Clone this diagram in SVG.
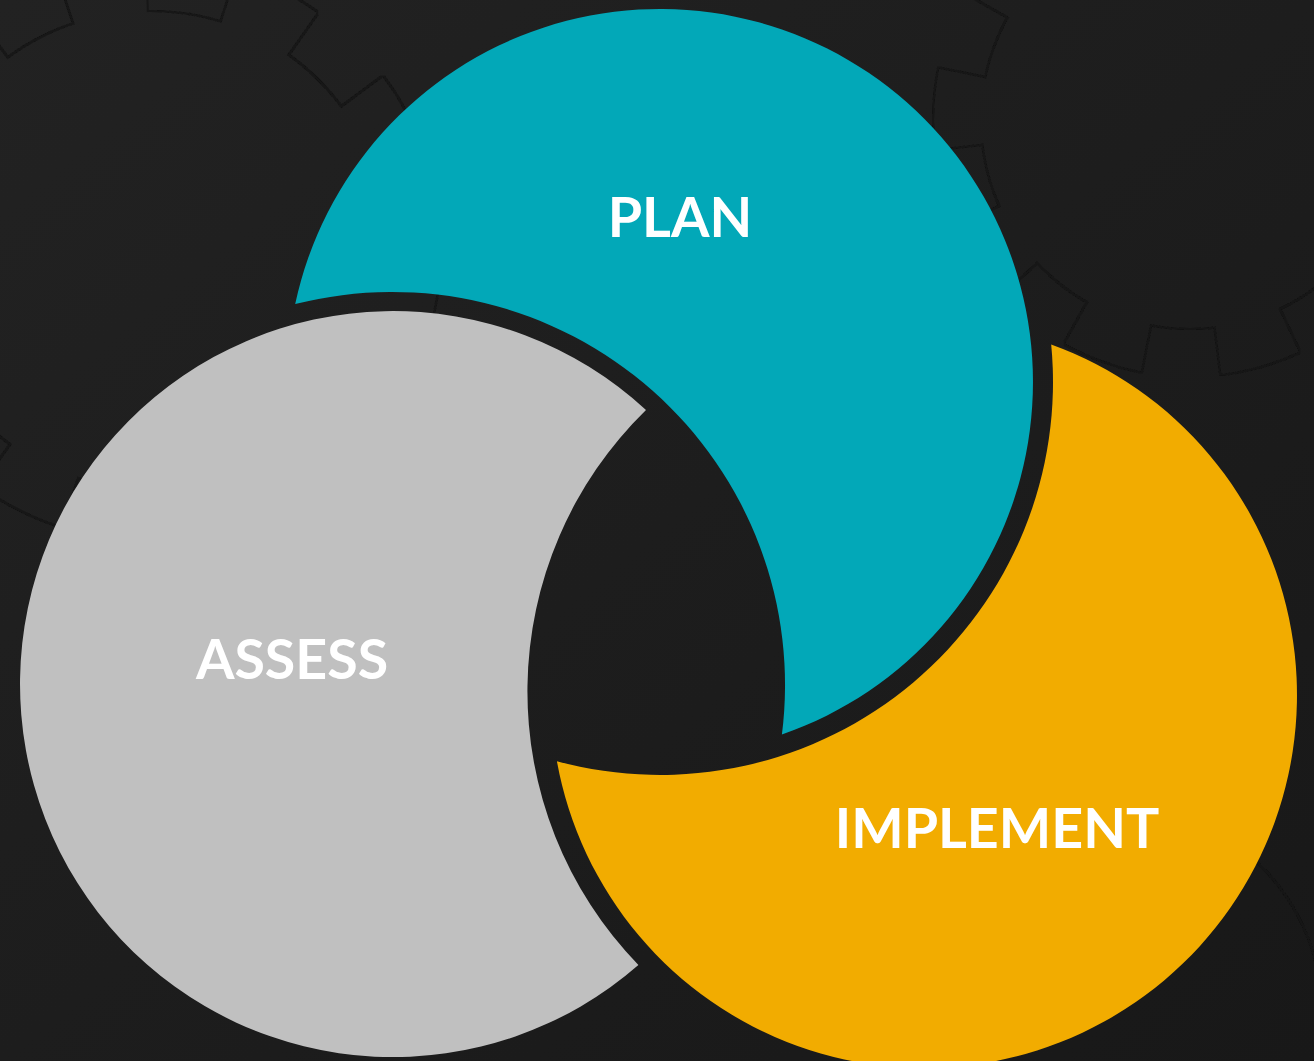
<svg xmlns="http://www.w3.org/2000/svg" width="1314" height="1061" viewBox="0 0 1314 1061">
  <defs>
    <linearGradient id="bg" x1="0" y1="0" x2="1" y2="1">
      <stop offset="0" stop-color="#222222"/>
      <stop offset="0.5" stop-color="#1d1d1d"/>
      <stop offset="1" stop-color="#181818"/>
    </linearGradient>
    <filter id="outline" x="-10%" y="-10%" width="120%" height="120%">
      <feMorphology in="SourceAlpha" operator="dilate" radius="2" result="fat"/>
      <feComposite in="fat" in2="SourceAlpha" operator="out" result="ring"/>
      <feFlood flood-color="#131313" result="col"/>
      <feComposite in="col" in2="ring" operator="in"/>
    </filter>
    <style>
      .gearfill { fill: #000000; }
      .gearteeth { fill: none; stroke: #000000; }
      .label { font-family: Lato, "Open Sans", "Liberation Sans", sans-serif; font-weight: 700; font-size: 55.5px; fill: #ffffff; text-anchor: middle; }
    </style>
  </defs>
  <rect x="0" y="0" width="1314" height="1061" fill="url(#bg)"/>

  <g id="background-gears" filter="url(#outline)" opacity="0.85">
    <circle class="gearfill" cx="150" cy="250" r="238"/>
    <circle class="gearteeth" cx="150" cy="250" r="260" stroke-width="60" stroke-dasharray="80 83"/>
    <circle class="gearfill" cx="1190" cy="120" r="208"/>
    <circle class="gearteeth" cx="1190" cy="120" r="228" stroke-width="56" stroke-dasharray="72 72" stroke-dashoffset="30"/>
    <circle class="gearfill" cx="1120" cy="1010" r="200"/>
  </g>

  <g id="connectors"></g>

  <g id="node-assess">
    <path d="M 646 410 A 373 373 0 1 0 638.4 965.0 A 393 393 0 0 1 646 410 Z" fill="#c0c0c0"/>
    <text class="label" x="292" y="679">ASSESS</text>
  </g>

  <g id="node-plan">
    <path d="M 295.2 304.1 A 373 373 0 1 1 781.9 734.5 A 393 393 0 0 0 295.2 304.1 Z" fill="#02a8b8"/>
    <text class="label" x="680" y="237">PLAN</text>
  </g>

  <g id="node-implement">
    <path d="M 1051.2 344.4 A 373 373 0 1 1 556.9 761.2 A 393 393 0 0 0 1051.2 344.4 Z" fill="#f2ac00"/>
    <text class="label" x="997" y="848">IMPLEMENT</text>
  </g>
</svg>
